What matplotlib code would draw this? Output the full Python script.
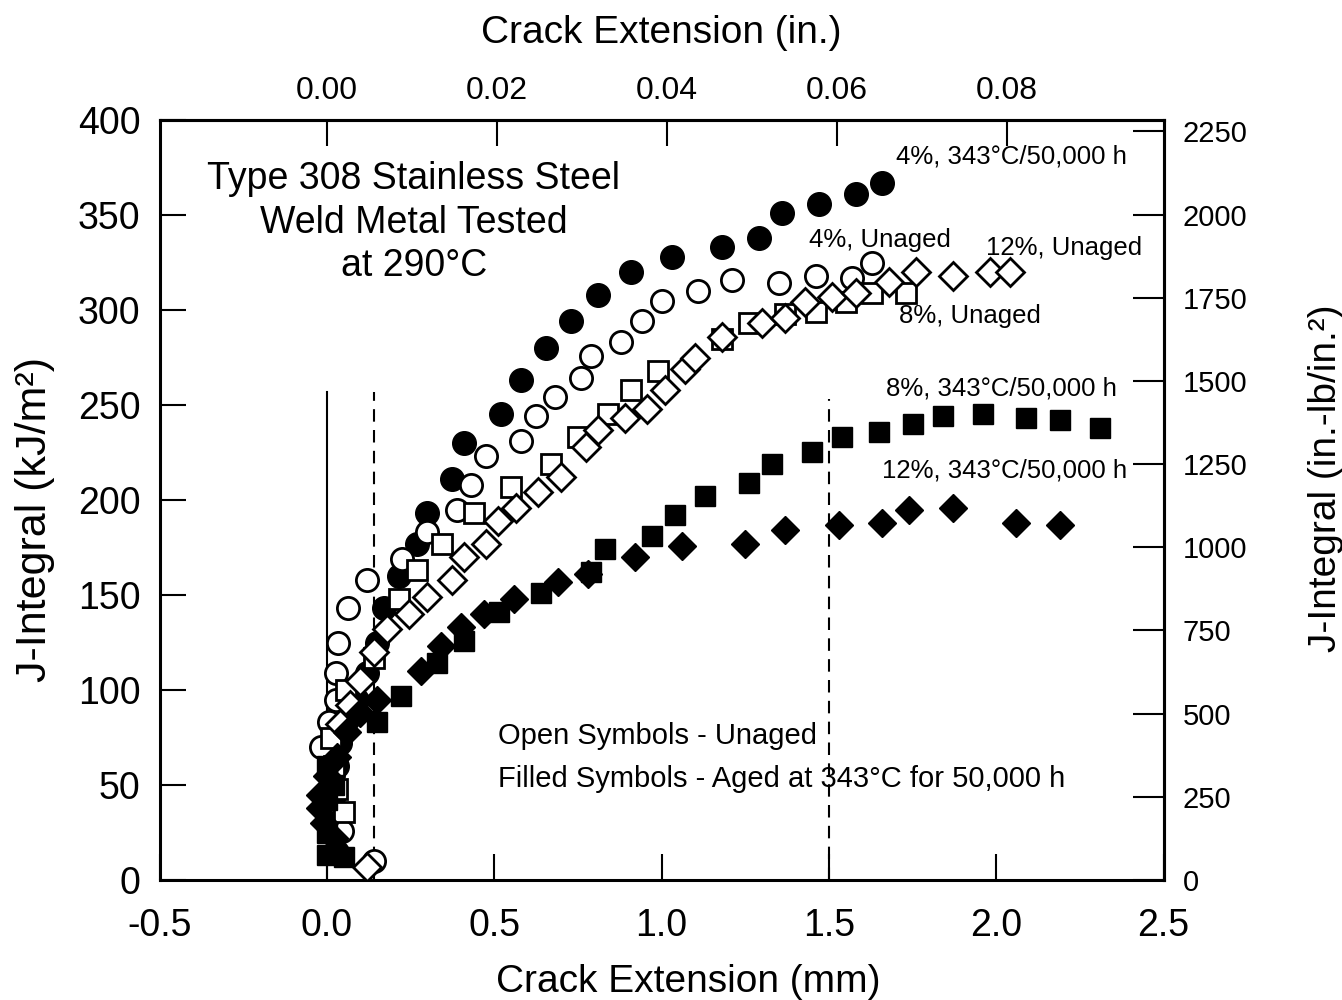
import matplotlib.pyplot as plt

plt.rcParams['font.family'] = ['Liberation Sans', 'DejaVu Sans']

# unit conversions for the secondary axes
MM_PER_IN = 25.4
KJ_PER_INLB = 0.1751

# 4%, aged 343C/50,000 h  (filled circles)
c4_aged_x = [0.03, 0.02, 0.02, 0.03, 0.04, 0.06, 0.09, 0.12, 0.15, 0.17, 0.215, 0.27, 0.30,
             0.375, 0.41, 0.52, 0.58, 0.655, 0.73, 0.81, 0.91, 1.03, 1.18, 1.29, 1.36, 1.47, 1.58, 1.66]
c4_aged_y = [15, 30, 45, 60, 72, 84, 95, 109, 125, 143, 160, 177, 193,
             211, 230, 245, 263, 280, 294, 308, 320, 328, 333, 338, 351, 356, 361, 367]

# 4%, unaged  (open circles)
c4_un_x = [0.14, 0.045, -0.018, 0.006, 0.027, 0.027, 0.033, 0.063, 0.12, 0.225, 0.30, 0.39, 0.43,
           0.475, 0.58, 0.625, 0.68, 0.76, 0.79, 0.88, 0.94, 1.00, 1.11, 1.21, 1.35, 1.46, 1.57, 1.63]
c4_un_y = [10, 26, 70, 83, 95, 109, 125, 143, 158, 169, 183, 195, 208,
           223, 231, 244, 254, 264, 276, 283, 294, 305, 310, 316, 314, 318, 317, 325]

# 8%, unaged  (open squares)
c8_un_x = [0.05, 0.03, 0.02, 0.012, 0.057, 0.14, 0.215, 0.27, 0.344, 0.44, 0.55, 0.67, 0.75,
           0.84, 0.91, 0.99, 1.18, 1.26, 1.37, 1.46, 1.55, 1.63, 1.73]
c8_un_y = [36, 48, 60, 75, 100, 117, 148, 163, 177, 193, 207, 219, 233,
           245, 258, 268, 285, 293, 298, 299, 304, 309, 309]

# 12%, unaged  (open diamonds)
c12_un_x = [0.12, 0.04, 0.07, 0.10, 0.14, 0.18, 0.245, 0.30, 0.375, 0.41, 0.475, 0.51, 0.565,
            0.63, 0.70, 0.775, 0.81, 0.89, 0.955, 1.01, 1.07, 1.10, 1.18, 1.30, 1.37, 1.43,
            1.51, 1.58, 1.68, 1.76, 1.87, 1.98, 2.04]
c12_un_y = [7, 82, 92, 105, 120, 132, 140, 149, 158, 170, 177, 189, 196,
            204, 212, 228, 237, 243, 248, 258, 269, 275, 286, 293, 296, 304,
            307, 309, 315, 320, 318, 320, 320]

# 8%, aged 343C/50,000 h  (filled squares)
c8_aged_x = [0.0, 0.05, 0.0, 0.0, 0.02, 0.0, 0.15, 0.22, 0.33, 0.41, 0.515, 0.64, 0.79, 0.83,
             0.97, 1.04, 1.13, 1.26, 1.33, 1.45, 1.54, 1.65, 1.75, 1.84, 1.96, 2.09, 2.19, 2.31]
c8_aged_y = [13, 12, 25, 42, 50, 60, 83, 97, 114, 126, 141, 151, 162, 174,
             181, 192, 202, 209, 219, 225, 233, 236, 240, 244, 245, 243, 242, 238]

# 12%, aged 343C/50,000 h  (filled diamonds)
c12_aged_x = [0.02, -0.01, -0.02, -0.02, 0.0, 0.03, 0.06, 0.10, 0.15, 0.28, 0.34, 0.40, 0.47,
              0.56, 0.69, 0.78, 0.92, 1.06, 1.25, 1.37, 1.53, 1.66, 1.74, 1.87, 2.06, 2.19]
c12_aged_y = [22, 30, 38, 45, 55, 65, 78, 88, 95, 110, 123, 133, 140,
              148, 157, 161, 170, 176, 177, 184, 187, 188, 195, 196, 188, 187]

# blunting / exclusion lines (mm, top in kJ/m2)
solid_line = [0.0, 257]
dashed_lines = [[0.14, 257], [1.5, 253]]

fig = plt.figure(figsize=(13.42, 10), dpi=100)
ax = fig.add_axes([0.119, 0.12, 0.748, 0.76])

ax.plot([solid_line[0]] * 2, [0, solid_line[1]], color='black', lw=1.5, zorder=1)
for xd, yt in dashed_lines:
    ax.plot([xd, xd], [0, yt], color='black', lw=1.5, dashes=(6, 4), zorder=1)

ms = 16
ax.plot(c4_aged_x, c4_aged_y, 'o', ms=ms + 1, mfc='black', mec='black', zorder=3)
ax.plot(c4_un_x, c4_un_y, 'o', ms=ms, mfc='white', mec='black', mew=2, zorder=3)
ax.plot(c8_un_x, c8_un_y, 's', ms=ms - 1, mfc='white', mec='black', mew=2, zorder=3)
ax.plot(c12_un_x, c12_un_y, 'D', ms=ms - 2, mfc='white', mec='black', mew=2, zorder=3)
ax.plot(c8_aged_x, c8_aged_y, 's', ms=ms - 1, mfc='black', mec='black', zorder=3)
ax.plot(c12_aged_x, c12_aged_y, 'D', ms=ms - 2, mfc='black', mec='black', zorder=3)

ax.set_xlim(-0.5, 2.5)
ax.set_ylim(0, 400)
ax.set_xticks([-0.5, 0.0, 0.5, 1.0, 1.5, 2.0, 2.5])
ax.set_xticklabels(['-0.5', '0.0', '0.5', '1.0', '1.5', '2.0', '2.5'])
ax.set_yticks(range(0, 401, 50))
ax.tick_params(direction='in', length=19, width=1.5, labelsize=27,
               top=False, right=False)
ax.tick_params(axis='x', pad=20)
ax.tick_params(axis='y', pad=14)
for s in ax.spines.values():
    s.set_linewidth(2.2)

ax.set_xlabel('Crack Extension (mm)', fontsize=28)
ax.xaxis.set_label_coords(0.527, -0.111)
ax.set_ylabel('J-Integral (kJ/m²)', fontsize=31)
ax.yaxis.set_label_coords(-0.104, 0.474)

top = ax.secondary_xaxis('top', functions=(lambda x: x / MM_PER_IN, lambda x: x * MM_PER_IN))
top.set_xticks([0.0, 0.02, 0.04, 0.06, 0.08])
top.set_xticklabels(['0.00', '0.02', '0.04', '0.06', '0.08'])
top.tick_params(direction='in', length=19, width=1.5, labelsize=23, pad=10)
top.spines['top'].set_linewidth(2.2)
top.set_xlabel('Crack Extension (in.)', fontsize=28, labelpad=24)

right = ax.secondary_yaxis('right', functions=(lambda y: y / KJ_PER_INLB, lambda y: y * KJ_PER_INLB))
right.set_yticks(range(0, 2251, 250))
right.tick_params(direction='in', length=22, width=1.5, labelsize=21, pad=14)
right.spines['right'].set_linewidth(2.2)
right.set_ylabel('J-Integral (in.-lb/in.²)', fontsize=28)
right.yaxis.set_label_coords(0.975, 0.522, transform=fig.transFigure)

ax.text(0.26, 346, 'Type 308 Stainless Steel\nWeld Metal Tested\nat 290°C',
        ha='center', va='center', fontsize=27, linespacing=1.28)

ax.text(1.70, 377, '4%, 343°C/50,000 h', fontsize=18.5)
ax.text(1.44, 333, '4%, Unaged', fontsize=18.5)
ax.text(1.97, 329, '12%, Unaged', fontsize=18.5)
ax.text(1.71, 293, '8%, Unaged', fontsize=18.5)
ax.text(1.67, 255, '8%, 343°C/50,000 h', fontsize=18.5)
ax.text(1.66, 212, '12%, 343°C/50,000 h', fontsize=18.5)

ax.text(0.51, 76, 'Open Symbols - Unaged', fontsize=21, va='center')
ax.text(0.51, 53, 'Filled Symbols - Aged at 343°C for 50,000 h', fontsize=21, va='center')

fig.savefig('out.png', dpi=100)
